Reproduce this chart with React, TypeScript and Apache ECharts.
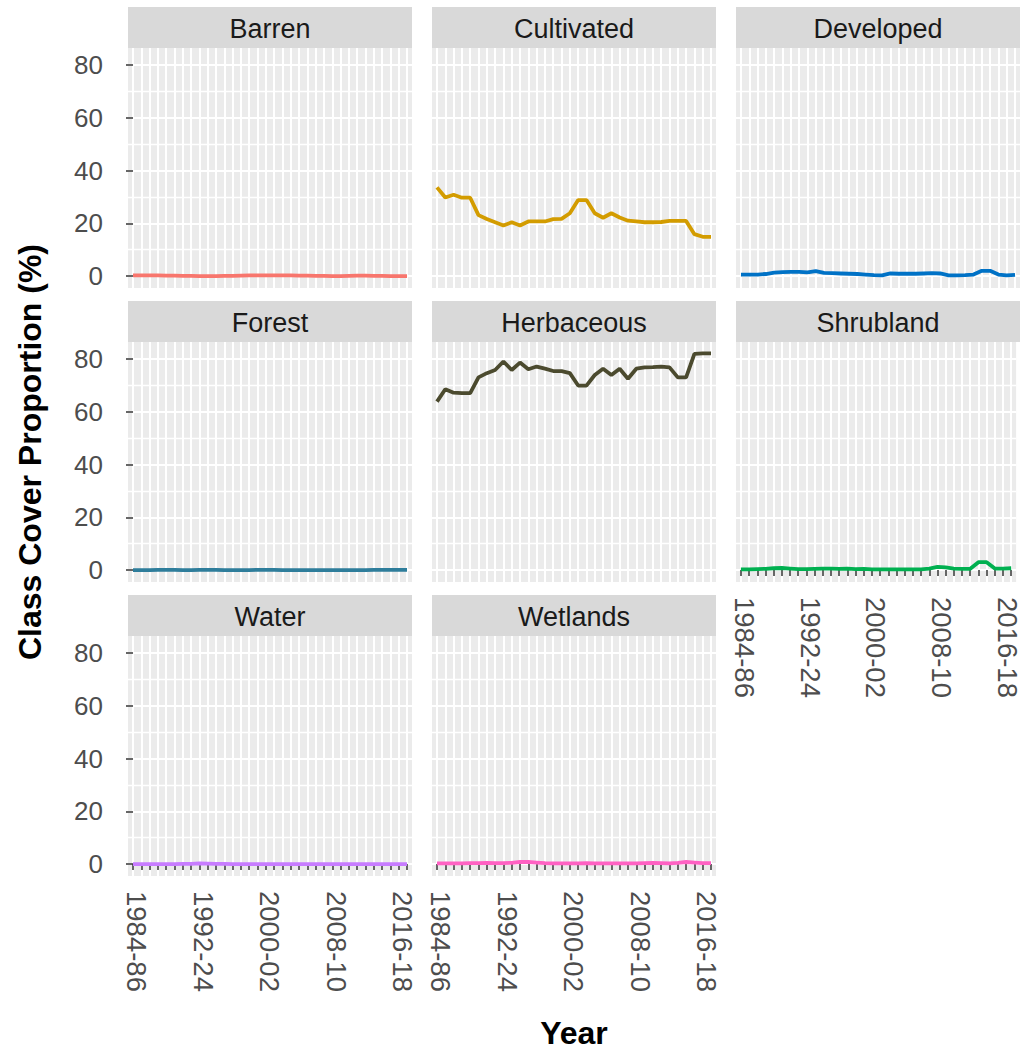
import React, { useEffect, useRef } from "react";
import * as echarts from "echarts";

const categories = [
  "1984-86", "1985-87", "1986-88", "1987-89", "1988-90", "1989-91", "1990-92", "1991-93",
  "1992-24", "1993-95", "1994-96", "1995-97", "1996-98", "1997-99", "1998-00", "1999-01",
  "2000-02", "2001-03", "2002-04", "2003-05", "2004-06", "2005-07", "2006-08", "2007-09",
  "2008-10", "2009-11", "2010-12", "2011-13", "2012-14", "2013-15", "2014-16", "2015-17",
  "2016-18", "2017-19",
];

const barren = [0.3, 0.3, 0.3, 0.3, 0.2, 0.2, 0.1, 0.1, 0.0, 0.0, 0.0, 0.1, 0.1, 0.2, 0.3, 0.3, 0.3,
  0.3, 0.3, 0.3, 0.2, 0.2, 0.1, 0.1, 0.0, 0.0, 0.1, 0.2, 0.2, 0.1, 0.1, 0.0, 0.0, 0.0];
const cultivated = [33.6, 29.8, 30.8, 29.7, 29.7, 23.1, 21.6, 20.4, 19.2, 20.4, 19.2, 20.7, 20.7,
  20.7, 21.6, 21.7, 23.8, 28.8, 28.8, 23.8, 22.1, 23.8, 22.2, 21.0, 20.7, 20.4, 20.4, 20.5, 20.9,
  20.9, 20.9, 15.9, 14.9, 14.9];
const developed = [0.6, 0.6, 0.6, 0.8, 1.3, 1.5, 1.6, 1.6, 1.4, 1.9, 1.2, 1.1, 1.0, 0.9, 0.8, 0.6,
  0.4, 0.3, 1.0, 0.9, 0.9, 0.9, 1.0, 1.1, 1.0, 0.3, 0.3, 0.4, 0.6, 2.0, 2.0, 0.6, 0.3, 0.5];
const forest = [0.0, 0.0, 0.0, 0.1, 0.1, 0.1, 0.0, 0.0, 0.1, 0.1, 0.1, 0.0, 0.0, 0.0, 0.0, 0.1, 0.1,
  0.1, 0.0, 0.0, 0.0, 0.0, 0.0, 0.0, 0.0, 0.0, 0.0, 0.0, 0.0, 0.1, 0.1, 0.1, 0.1, 0.1];
const herbaceous = [63.8, 68.5, 67.2, 67.0, 67.0, 73.0, 74.6, 75.8, 79.0, 75.8, 78.6, 76.1, 77.1,
  76.3, 75.4, 75.4, 74.6, 69.9, 69.9, 73.9, 76.3, 73.9, 76.3, 72.5, 76.3, 76.8, 76.9, 77.1, 76.8,
  73.0, 73.0, 81.9, 82.1, 82.1];
const shrubland = [0.3, 0.3, 0.4, 0.5, 0.7, 0.8, 0.6, 0.4, 0.4, 0.5, 0.6, 0.6, 0.5, 0.6, 0.4, 0.5,
  0.3, 0.3, 0.3, 0.3, 0.3, 0.3, 0.3, 0.6, 1.2, 1.0, 0.6, 0.5, 0.5, 3.0, 3.0, 0.6, 0.6, 0.7];
const water = [0.0, 0.0, 0.0, 0.0, 0.0, 0.0, 0.1, 0.1, 0.3, 0.2, 0.1, 0.1, 0.0, 0.0, 0.0, 0.0, 0.0,
  0.0, 0.0, 0.0, 0.0, 0.0, 0.0, 0.0, 0.0, 0.0, 0.0, 0.0, 0.0, 0.0, 0.0, 0.0, 0.0, 0.0];
const wetlands = [0.3, 0.3, 0.3, 0.3, 0.4, 0.4, 0.5, 0.4, 0.4, 0.5, 0.8, 0.8, 0.6, 0.4, 0.3, 0.3,
  0.3, 0.3, 0.4, 0.3, 0.3, 0.3, 0.3, 0.3, 0.3, 0.4, 0.5, 0.4, 0.3, 0.5, 0.8, 0.6, 0.4, 0.4];

const panelNames = ["Barren", "Cultivated", "Developed", "Forest", "Herbaceous", "Shrubland", "Water", "Wetlands"];
const panelValues = [barren, cultivated, developed, forest, herbaceous, shrubland, water, wetlands];
const panelColors = ["#F8766D", "#D39C00", "#0072C6", "#2E7D9B", "#4B4A2E", "#00B050", "#C77CFF", "#FF61C3"];

const yTicks = [0, 20, 40, 60, 80];
const yMinorTicks = [10, 30, 50, 70];
const xLabelIdx = [0, 8, 16, 24, 32];

const FONT = "Liberation Sans, Arial, Helvetica, sans-serif";

export default function App() {
  const ref = useRef<HTMLDivElement>(null);
  useEffect(() => {
    if (!ref.current) return;
    const chart = echarts.init(ref.current, null, { renderer: "svg" });
    const colLeft = [128, 432, 736];
    const rowTop = [48, 342, 636];
    const W = 284;
    const H = 240;
    const stripH = 41;
    const xIdx = categories.map((_, i) => i);
    const bottomSet = new Set([5, 6, 7]);

    const grids: any[] = [];
    const xAxes: any[] = [];
    const yAxes: any[] = [];
    const series: any[] = [];
    const graphics: any[] = [];

    panelNames.forEach((name, i) => {
      const row = Math.floor(i / 3);
      const col = i % 3;
      const left = colLeft[col];
      const top = rowTop[row];
      const isBottom = bottomSet.has(i);
      grids.push({
        left, top, width: W, height: H, show: true,
        backgroundColor: "#EBEBEB", borderWidth: 0, containLabel: false,
      });
      xAxes.push({
        gridIndex: i, type: "value", min: -0.6, max: 33.6,
        axisLine: { show: false },
        axisTick: { show: isBottom, customValues: xIdx, length: 6, lineStyle: { color: "#333333", width: 1.5 } },
        axisLabel: {
          show: isBottom, customValues: xLabelIdx, rotate: -90, margin: 15,
          fontSize: 27.5, fontFamily: FONT, color: "#4D4D4D",
          verticalAlign: "bottom",
          lineHeight: 8,
          formatter: (v: number) => categories[Math.round(v)] ?? "",
        },
        splitLine: { show: true, lineStyle: { color: "#FFFFFF", width: 2 } },
      });
      yAxes.push({
        gridIndex: i, type: "value", min: -4.5, max: 86.4,
        axisLine: { show: false },
        axisTick: { show: col === 0, customValues: yTicks, length: 7, lineStyle: { color: "#333333", width: 1.5 } },
        axisLabel: {
          show: col === 0, customValues: yTicks, margin: 25,
          fontSize: 26, fontFamily: FONT, color: "#4D4D4D",
        },
        splitLine: { show: true, lineStyle: { color: "#FFFFFF", width: 2 } },
      });
      series.push({
        type: "line", name, xAxisIndex: i, yAxisIndex: i * 2,
        data: panelValues[i].map((v, k) => [k, v]),
        showSymbol: false, symbol: "none",
        lineStyle: { color: panelColors[i], width: 3.8 },
        itemStyle: { color: panelColors[i] },
        z: 5,
      });
      graphics.push({
        type: "rect", left, top: top - stripH, shape: { x: 0, y: 0, width: W, height: stripH },
        style: { fill: "#D9D9D9" }, silent: true,
      });
      graphics.push({
        type: "text", x: left + W / 2, y: top - stripH / 2 + 1,
        style: {
          text: name, fontSize: 27, fontFamily: FONT, fill: "#1A1A1A",
          textAlign: "center", textVerticalAlign: "middle", verticalAlign: "middle",
        },
        silent: true,
      });
    });

    const yAll: any[] = [];
    yAxes.forEach((ax, i) => {
      yAll.push(ax);
      yAll.push({
        gridIndex: i, type: "value", min: -4.5, max: 86.4,
        axisLine: { show: false },
        axisTick: { show: false, customValues: yMinorTicks },
        axisLabel: { show: false },
        splitLine: { show: true, lineStyle: { color: "#FFFFFF", width: 1.4 } },
      });
    });

    graphics.push({
      type: "text", x: 30, y: 452, rotation: Math.PI / 2,
      style: {
        text: "Class Cover Proportion (%)", fontSize: 32, fontWeight: "bold", fontFamily: FONT,
        fill: "#000000", textAlign: "center", textVerticalAlign: "middle", verticalAlign: "middle",
      },
      silent: true,
    });
    graphics.push({
      type: "text", x: 574, y: 1033,
      style: {
        text: "Year", fontSize: 32, fontWeight: "bold", fontFamily: FONT,
        fill: "#000000", textAlign: "center", textVerticalAlign: "middle", verticalAlign: "middle",
      },
      silent: true,
    });

    chart.setOption({
      animation: false,
      backgroundColor: "#FFFFFF",
      grid: grids,
      xAxis: xAxes,
      yAxis: yAll,
      series,
      graphic: graphics,
    });
    return () => chart.dispose();
  }, []);
  return (
    <div
      ref={ref}
      style={{ position: "absolute", left: 0, top: 0, width: 1021, height: 1057 }}
    />
  );
}
